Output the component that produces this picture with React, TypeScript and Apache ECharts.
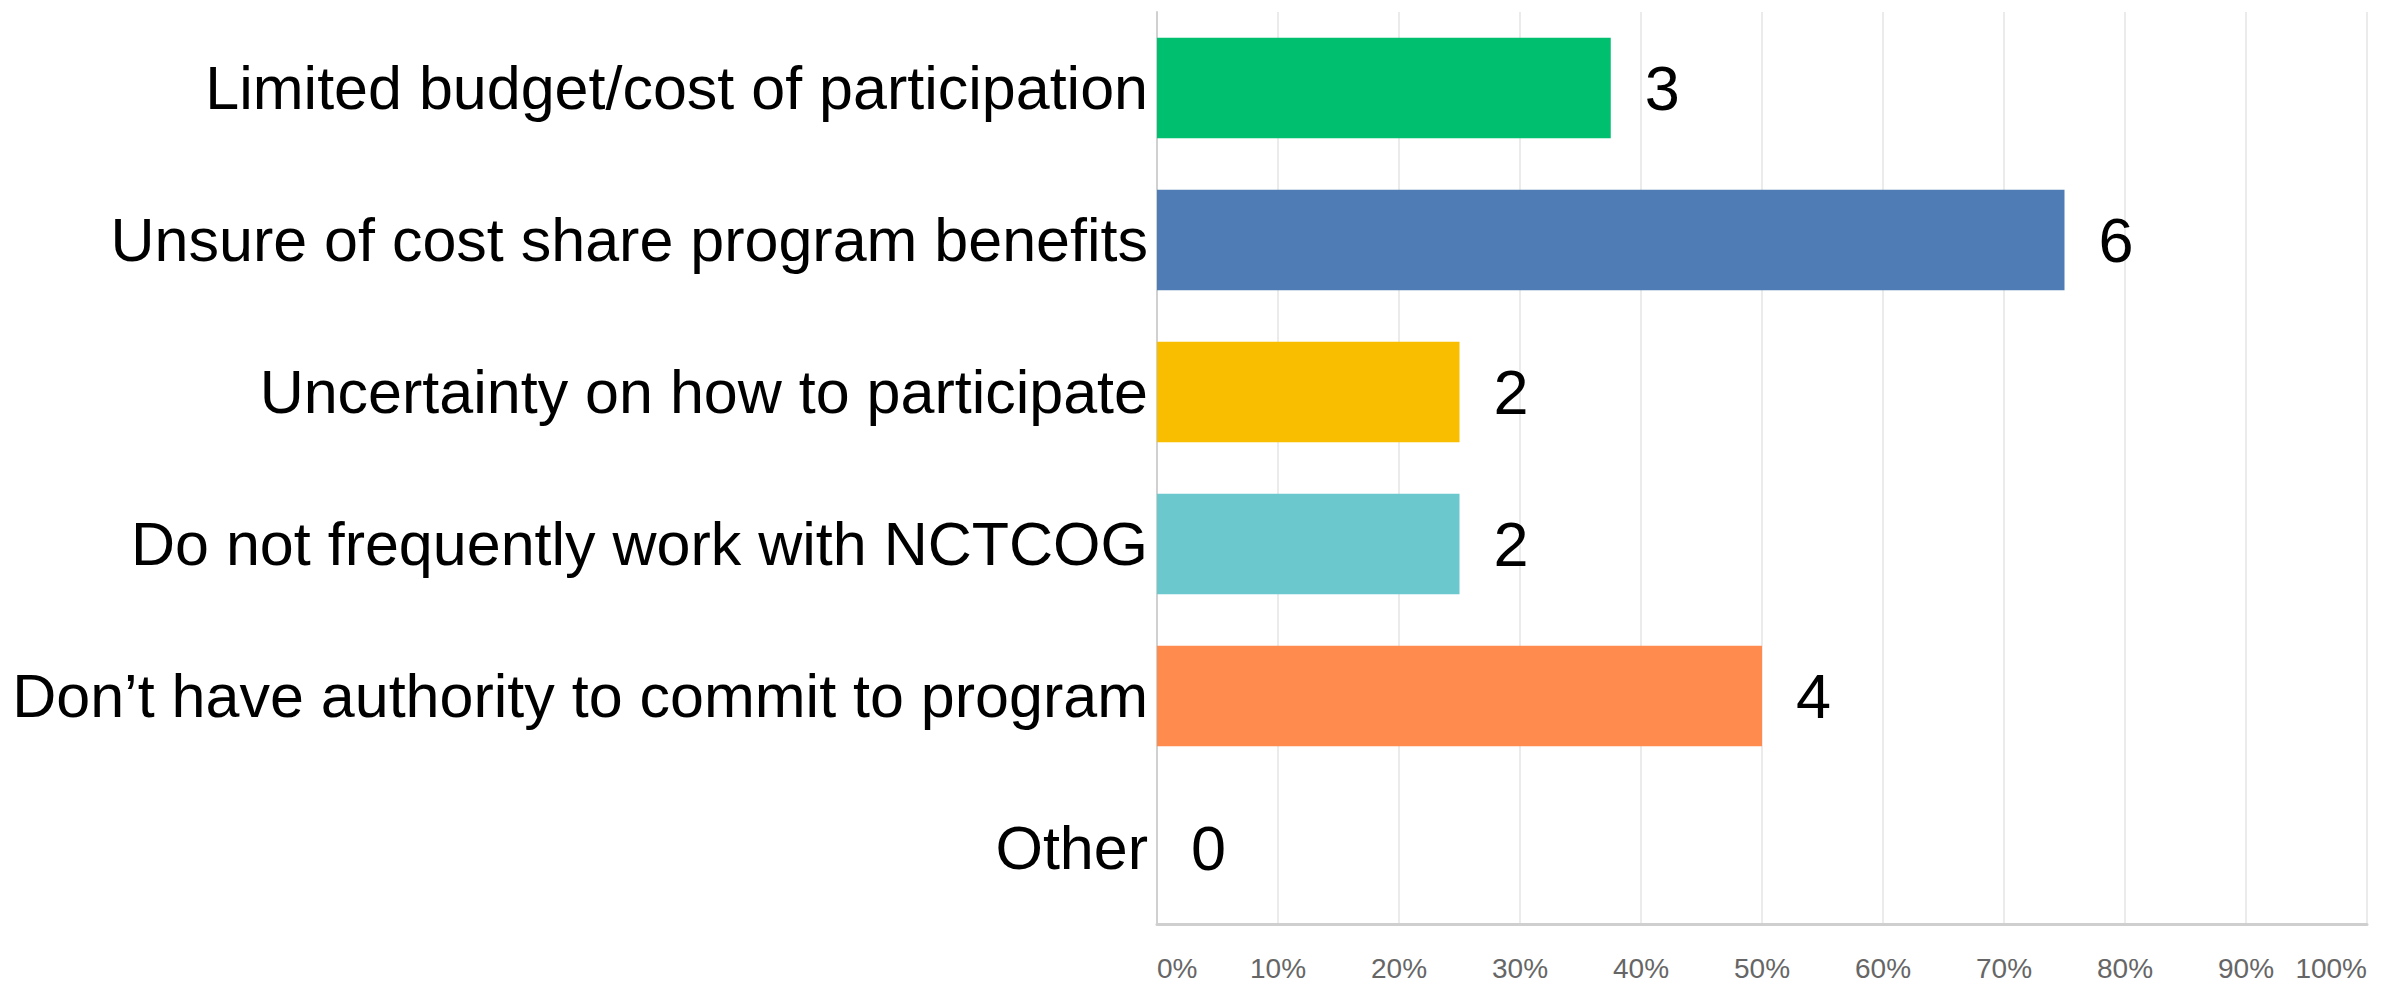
import React, { useEffect, useRef } from "react";
import * as echarts from "echarts";

const categories = [
  "Limited budget/cost of participation",
  "Unsure of cost share program benefits",
  "Uncertainty on how to participate",
  "Do not frequently work with NCTCOG",
  "Don\u2019t have authority to commit to program",
  "Other",
];
const percentages = [37.5, 75, 25, 25, 50, 0];
const counts = [3, 6, 2, 2, 4, 0];
const colors = ["#00BF6F", "#507CB6", "#F9BE00", "#6BC8CD", "#FF8B4F", "#7D5BA6"];
const tickMin = 0;
const tickMax = 100;
const tickStep = 10;

const FONT = "'Liberation Sans', Arial, sans-serif";

export default function App() {
  const ref = useRef<HTMLDivElement>(null);
  useEffect(() => {
    if (!ref.current) return;
    const chart = echarts.init(ref.current, null, { renderer: "svg" });
    chart.setOption({
      animation: false,
      backgroundColor: "#ffffff",
      grid: {
        left: 1157,
        top: 12,
        right: 30,
        bottom: 59,
        containLabel: false,
        outerBoundsMode: "none",
      },
      xAxis: {
        type: "value",
        min: tickMin,
        max: tickMax,
        interval: tickStep,
        axisLine: { show: true, lineStyle: { color: "#cfcfcf", width: 3 } },
        axisTick: { show: false },
        splitLine: { show: true, lineStyle: { color: "#ebebeb", width: 2 } },
        axisLabel: {
          formatter: "{value}%",
          fontSize: 28,
          fontFamily: FONT,
          color: "#666666",
          margin: 30,
          alignMinLabel: "left",
          alignMaxLabel: "right",
        },
      },
      yAxis: {
        type: "category",
        inverse: true,
        data: categories,
        axisLine: { show: true, lineStyle: { color: "#d0d0d0", width: 2 } },
        axisTick: { show: false },
        axisLabel: {
          fontSize: 61,
          fontFamily: FONT,
          color: "#000000",
          margin: 9,
        },
      },
      series: [
        {
          type: "bar",
          barCategoryGap: "34%",
          data: percentages.map((v, i) => ({
            value: v,
            itemStyle: { color: colors[i] },
            label: {
              show: true,
              position: "right",
              distance: 34,
              formatter: String(counts[i]),
              fontSize: 63,
              fontFamily: FONT,
              color: "#000000",
            },
          })),
        },
      ],
    });
    return () => chart.dispose();
  }, []);
  return (
    <div
      ref={ref}
      style={{ position: "fixed", left: 0, top: 0, width: 2397, height: 983, background: "#fff" }}
    />
  );
}
